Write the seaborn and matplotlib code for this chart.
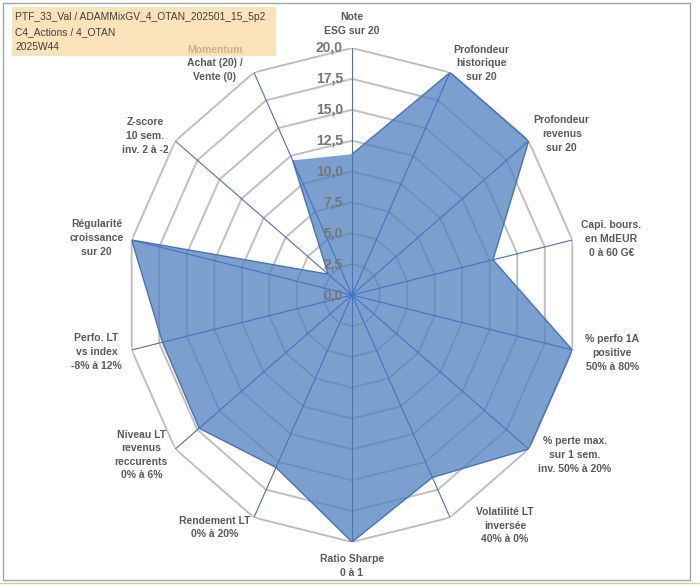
import numpy as np
import seaborn as sns
import matplotlib.pyplot as plt
from matplotlib.patches import Rectangle
from matplotlib.lines import Line2D

# axes of the radar, clockwise from the top
criteres = [
    "Note\nESG sur 20",
    "Profondeur\nhistorique\nsur 20",
    "Profondeur\nrevenus\nsur 20",
    "Capi. bours.\nen MdEUR\n0 à 60 G€",
    "% perfo 1A\npositive\n50% à 80%",
    "% perte max.\nsur 1 sem.\ninv. 50% à 20%",
    "Volatilité LT\ninversée\n40% à 0%",
    "Ratio Sharpe\n0 à 1",
    "Rendement LT\n0% à 20%",
    "Niveau LT\nrevenus\nreccurents\n0% à 6%",
    "Perfo. LT\nvs index\n-8% à 12%",
    "Régularité\ncroissance\nsur 20",
    "Z-score\n10 sem.\ninv. 2 à -2",
    "Momentum\nAchat (20) /\nVente (0)",
]
notes = [11.4, 20, 20, 12.8, 20, 20, 16.4, 20, 15.5, 17.3, 17.2, 20, 2.7, 12.1]
anneaux = [2.5, 5, 7.5, 10, 12.5, 15, 17.5, 20]
graduations = [0, 2.5, 5, 7.5, 10, 12.5, 15, 17.5, 20]
titre = ["PTF_33_Val / ADAMMixGV_4_OTAN_202501_15_5p2", "C4_Actions / 4_OTAN", "2025W44"]

# label offsets in pixels from the outer vertex (layout only)
decalages = [(0, 24), (31, 9), (33, 7), (39, 1), (40, -3), (46, -6), (55, -8),
             (0, -24), (-39, -10), (-34, -6), (-35, -2), (-35, 2), (-30, 5), (-39, 9)]

sns.set_theme(style="white")
plt.rcParams['font.family'] = ['Liberation Sans', 'DejaVu Sans']

n = len(criteres)
angles = np.linspace(0, 2 * np.pi, n, endpoint=False)
ang_ferme = np.append(angles, angles[0])
val_ferme = np.append(notes, notes[0])

fig = plt.figure(figsize=(7, 5.86), dpi=100)
ax = fig.add_axes([126 / 700, 44 / 586, 452 / 700, 494 / 586], projection='polar')
ax.set_aspect('auto')
ax.set_theta_zero_location('N')
ax.set_theta_direction(-1)
ax.grid(False)
ax.spines['polar'].set_visible(False)
ax.set_xticks([])
ax.set_yticks([])
ax.patch.set_alpha(0)

# polygonal grid rings
for r in anneaux:
    ax.plot(ang_ferme, [r] * (n + 1), color='#BFBFBF', lw=1.4, zorder=1)

# filled series
ax.fill(ang_ferme, val_ferme, color='#4F81BD', alpha=0.75, lw=0, zorder=2)
sns.lineplot(x=ang_ferme, y=val_ferme, sort=False, ax=ax, color='#4472C4', lw=1, zorder=3)

# spokes
for a in angles:
    ax.plot([a, a], [0, 20], color='#4472C4', lw=0.8, zorder=4)

ax.set_ylim(0, 20)

# radial tick labels
for g in graduations:
    ax.annotate(f"{g:.1f}".replace('.', ','), xy=(0, g), xytext=(-9, 0),
                textcoords='offset pixels', ha='right', va='center',
                fontsize=10, fontweight='bold', color='#767676', zorder=5)

# category labels
for a, lab, (dx, dy) in zip(angles, criteres, decalages):
    ax.annotate(lab, xy=(a, 20), xytext=(dx, dy), textcoords='offset pixels',
                ha='center', va='center', fontsize=7.5, fontweight='bold',
                color='#595959', linespacing=1.45, annotation_clip=False, zorder=5)

# title box
fig.patches.append(Rectangle((12 / 700, 1 - 56 / 586), 264 / 700, 49 / 586,
                             transform=fig.transFigure, facecolor='#F9D89A',
                             alpha=0.7, edgecolor='none', zorder=2))
for i, ligne in enumerate(titre):
    fig.text(15 / 700, 1 - (17 + 15 * i) / 586, ligne, ha='left', va='center',
             fontsize=7.4, color='#404040', zorder=3)

# chart border
fig.patches.append(Rectangle((3 / 700, 1 - 580 / 586), 687 / 700, 577 / 586,
                             transform=fig.transFigure, facecolor='none',
                             edgecolor='#A6A6A6', lw=1, zorder=1))
fig.lines.append(Line2D([0, 1], [1 - 583 / 586] * 2, transform=fig.transFigure,
                        color='#9BBB59', lw=1, alpha=0.6))

fig.savefig('out.png', dpi=100)
